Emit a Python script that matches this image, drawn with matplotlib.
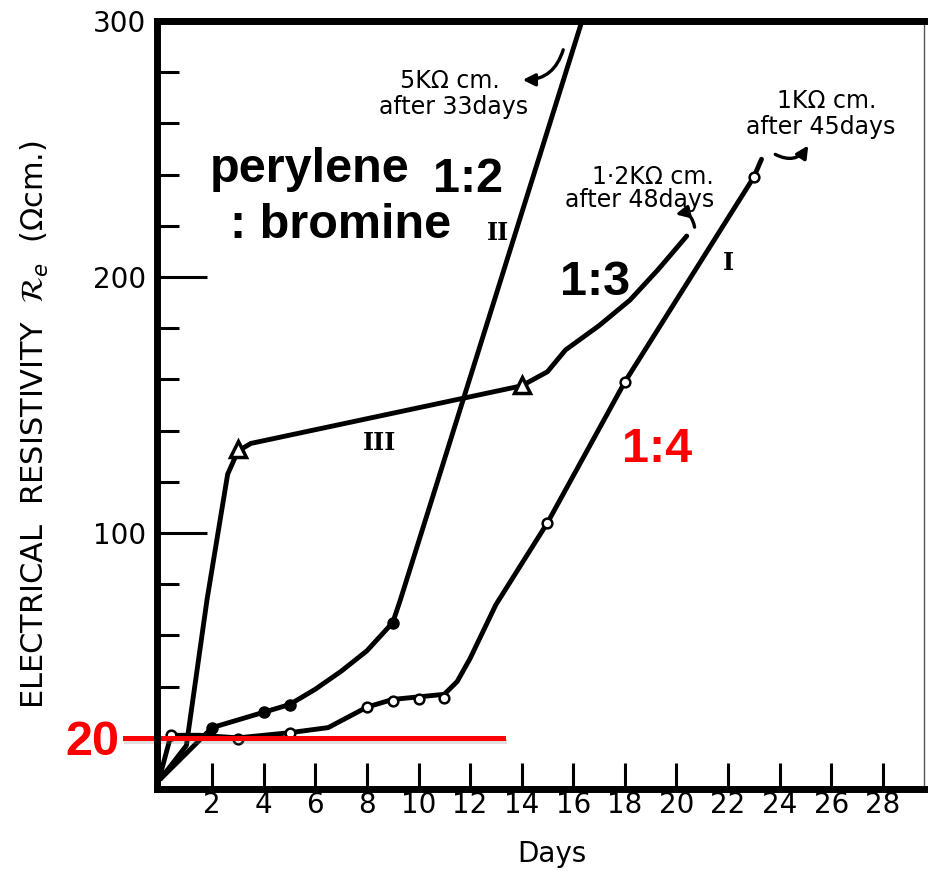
import matplotlib.pyplot as plt
from matplotlib import patheffects as pe
from matplotlib.ticker import MultipleLocator, FixedLocator

# curve I (1:4), open circles
days_i = [0.4, 3, 5, 8, 9, 10, 11, 15, 18, 23]
res_i = [21, 19.5, 22, 32, 34.5, 35, 35.5, 104, 159, 239]
line_i_x = [0, 0.4, 1.5, 3, 5, 6.5, 8, 9, 10, 11, 11.5, 12, 13, 15, 18, 23, 23.3]
line_i_y = [6, 21, 21, 20, 22, 24, 32, 35, 36, 37, 42, 51, 72, 104, 159, 239, 246]

# curve II (1:2), filled circles
days_ii = [2, 4, 5, 9]
res_ii = [24, 30, 33, 65]
line_ii_x = [0, 1.2, 2, 4, 5, 6, 7, 8, 9, 9.3, 16.4]
line_ii_y = [4, 16, 24, 30, 33, 39, 46, 54, 65, 74, 302]

# curve III (1:3), triangles
days_iii = [3, 14]
res_iii = [133, 158]
line_iii_x = [0, 1.0, 1.8, 2.6, 3.0, 3.5, 14, 15, 15.7, 17, 18.2, 19.3, 20.4]
line_iii_y = [4, 17, 74, 123, 132, 135, 157.5, 163, 171.5, 181, 191, 203, 216]

xticks = list(range(2, 29, 2))
ymajor = [100, 200, 300]

fig = plt.figure(figsize=(9.29, 8.71), dpi=100)
ax = fig.add_axes([0.169, 0.0941, 0.8256, 0.8818])

lw = 3.5
ax.plot(line_i_x, line_i_y, color="black", lw=lw, solid_capstyle="round", solid_joinstyle="round")
ax.plot(line_ii_x, line_ii_y, color="black", lw=lw, solid_capstyle="round", solid_joinstyle="round")
ax.plot(line_iii_x, line_iii_y, color="black", lw=lw, solid_capstyle="round", solid_joinstyle="round")
ax.plot(days_i, res_i, "o", ms=7, mfc="white", mec="black", mew=1.8)
ax.plot(days_ii, res_ii, "o", ms=8, color="black")
ax.plot(days_iii, res_iii, "^", ms=11, mfc="white", mec="black", mew=2.5)

ax.set_xlim(-0.14, 29.6)
ax.set_ylim(0, 300)

for s in ["left", "bottom", "top"]:
    ax.spines[s].set_linewidth(5)
    ax.spines[s].set_capstyle("projecting")
ax.spines["right"].set_linewidth(1)
ax.spines["right"].set_color("#555555")

ax.xaxis.set_major_locator(FixedLocator(xticks))
ax.yaxis.set_major_locator(FixedLocator(ymajor))
ax.yaxis.set_minor_locator(MultipleLocator(20))
ax.tick_params(axis="x", direction="in", length=19, width=2.2, pad=1.5, labelsize=20)
ax.tick_params(axis="y", which="major", direction="in", length=36, width=2.2, pad=8, labelsize=20)
ax.tick_params(axis="y", which="minor", direction="in", length=16, width=2.2)

fig.text(0.594, 0.0103, "Days", fontsize=20, ha="center", va="baseline")
fig.text(0.038, 0.512, "ELECTRICAL  RESISTIVITY  $\\mathcal{R}_e$  ($\\Omega$cm.)",
         fontsize=22, rotation=90, ha="center", va="center")

# hand lettered notes
note = dict(fontsize=17, ha="center", va="center")
ax.text(11.22, 276.6, "5KΩ cm.", **note)
ax.text(11.34, 266.4, "after 33days", **note)
ax.text(19.09, 239, "1·2KΩ cm.", **note)
ax.text(18.59, 230, "after 48days", **note)
ax.text(25.83, 268.7, "1KΩ cm.", **note)
ax.text(25.6, 258.6, "after 45days", **note)

arr = dict(arrowstyle="-|>", color="black", lw=2.4, mutation_scale=18)
ax.annotate("", xy=(13.93, 277), xytext=(15.64, 289.8),
            arrowprops=dict(connectionstyle="arc3,rad=-0.4", **arr))
ax.annotate("", xy=(19.86, 224.2), xytext=(20.72, 218.4),
            arrowprops=dict(connectionstyle="arc3,rad=0.6", **arr))
ax.annotate("", xy=(25.17, 252.3), xytext=(23.74, 248.4),
            arrowprops=dict(connectionstyle="arc3,rad=0.5", **arr))

roman = dict(fontsize=17, family="DejaVu Serif", fontweight="bold", ha="center", va="center")
ax.text(13.08, 217.2, "II", **roman)
ax.text(22.0, 205.5, "I", **roman)
ax.text(8.5, 135, "III", **roman)

# overlaid labels
big = dict(fontsize=35, family="Liberation Sans", fontweight="bold", ha="left", va="baseline")
ax.text(1.92, 237.1, "perylene", **big)
ax.text(2.69, 215.2, ": bromine", **big)
ax.text(10.56, 233.2, "1:2", **big)
ax.text(15.48, 193, "1:3", **big)
ax.text(17.89, 127.7, "1:4", color="#ff0000", **big)
ax.text(-3.7, 13.3, "20", color="#ff0000", **big)

ax.plot([-1.39, 13.28], [20, 20], color="#ff0000", lw=3.6, clip_on=False,
        path_effects=[pe.SimpleLineShadow(offset=(1, -2), alpha=0.25, shadow_color="gray"), pe.Normal()])

fig.savefig("out.png", dpi=100)
